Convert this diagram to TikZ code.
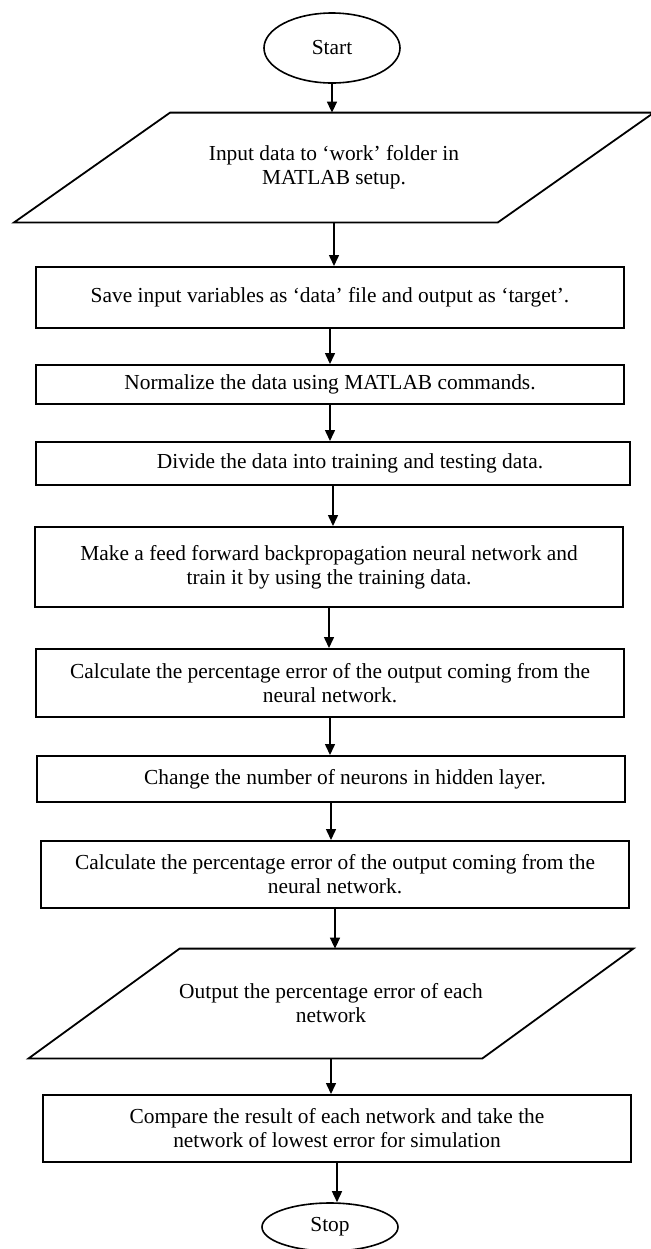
\documentclass[tikz,border=0pt]{standalone}
\usepackage{fontspec}
\setmainfont{Liberation Serif}
\usetikzlibrary{arrows.meta, positioning, calc, shapes.geometric}

\begin{document}
\begin{tikzpicture}[
  x=0.5pt, y=-0.5pt,
  font=\fontsize{10.7}{12}\selectfont,
  procbox/.style = {draw, line width=1pt, minimum width=294pt, align=center, inner sep=0pt},
  term/.style    = {draw, ellipse, line width=0.8pt, minimum width=68pt, inner sep=0pt},
  iobox/.style   = {minimum height=54.5pt, align=center, inner sep=0pt},
  ioline/.style  = {line width=0.9pt, line join=miter},
  arrow/.style   = {line width=0.75pt, -{Triangle[width=5pt,length=5.5pt]}}
]
  \useasboundingbox (0,0) rectangle (651,1249);

  % Start
  \node[term, minimum height=35pt] (start) at (332,48) {Start};

  % Input (slanted outline drawn round the text node)
  \node[iobox, minimum width=241.5pt] (input) at (334,167.5)
    {Input data to ‘work’ folder in\\MATLAB setup.};
  \draw[ioline] ([xshift=39pt]input.north west) -- ([xshift=39pt]input.north east)
    -- ([xshift=-39pt]input.south east) -- ([xshift=-39pt]input.south west) -- cycle;

  % Processing steps
  \node[procbox, minimum height=30.5pt] (save) at (330,297.5)
    {Save input variables as ‘data’ file and output as ‘target’.};
  \node[procbox, minimum height=19.5pt] (norm) at (330,384.5)
    {Normalize the data using MATLAB commands.};
  \node[procbox, minimum width=297pt, minimum height=21.5pt] (divide) at (333,463.5)
    {\hspace*{17pt}Divide the data into training and testing data.};
  \node[procbox, minimum height=40pt] (train) at (329,567)
    {Make a feed forward backpropagation neural network and\\train it by using the training data.};
  \node[procbox, minimum height=34pt] (calc1) at (330,683)
    {Calculate the percentage error of the output coming from the\\neural network.};
  \node[procbox, minimum height=23pt] (neurons) at (331,779)
    {\hspace*{14pt}Change the number of neurons in hidden layer.};
  \node[procbox, minimum height=33.5pt] (calc2) at (335,874.5)
    {Calculate the percentage error of the output coming from the\\neural network.};

  % Output (slanted outline)
  \node[iobox, minimum width=226.5pt] (output) at (331,1003.5)
    {Output the percentage error of each\\network};
  \draw[ioline] ([xshift=37.75pt]output.north west) -- ([xshift=37.75pt]output.north east)
    -- ([xshift=-37.75pt]output.south east) -- ([xshift=-37.75pt]output.south west) -- cycle;

  \node[procbox, minimum height=33.5pt] (compare) at (337,1128.5)
    {Compare the result of each network and take the\\network of lowest error for simulation};

  % Stop
  \node[term, minimum height=24pt] (stop) at (330,1227) {Stop};

  % Flow arrows
  \draw[arrow] (start.south) -- (start.south |- input.north);
  \draw[arrow] (input.south) -- (input.south |- save.north);
  \draw[arrow] (save.south) -- (save.south |- norm.north);
  \draw[arrow] (norm.south) -- (norm.south |- divide.north);
  \draw[arrow] (divide.south) -- (divide.south |- train.north);
  \draw[arrow] (train.south) -- (train.south |- calc1.north);
  \draw[arrow] (calc1.south) -- (calc1.south |- neurons.north);
  \draw[arrow] (neurons.south) -- (neurons.south |- calc2.north);
  \draw[arrow] (calc2.south) -- (calc2.south |- output.north);
  \draw[arrow] (output.south) -- (output.south |- compare.north);
  \draw[arrow] (compare.south) -- (compare.south |- stop.north);

\end{tikzpicture}
\end{document}
